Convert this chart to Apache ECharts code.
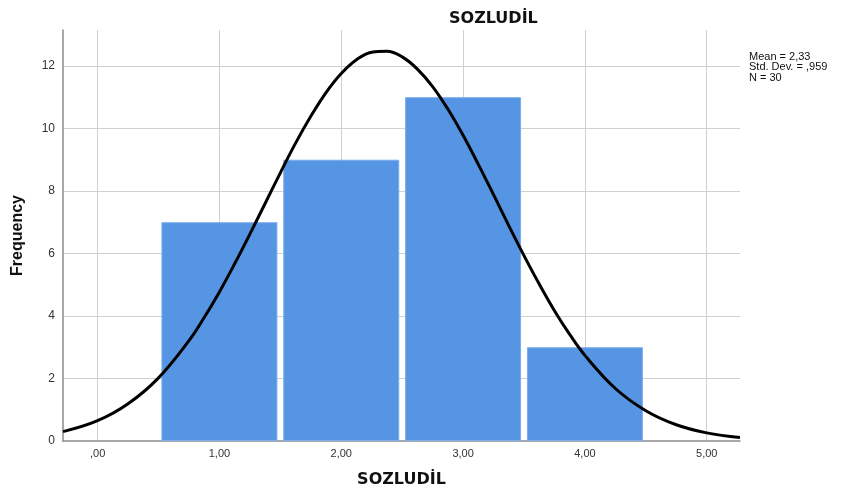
<!DOCTYPE html>
<html lang="tr">
<head>
    <meta charset="UTF-8">
    <title>SOZLUDİL</title>
    <style type="text/css">
        html, body { margin: 0; padding: 0; background: #fff; }
        #hist { width: 845px; height: 496px; }
    </style>
    <script src="https://cdn.jsdelivr.net/npm/echarts@6/dist/echarts.min.js"></script>
</head>
<body>
<div id="hist"></div>
<script type="application/javascript">
    // histogram bins (centres) and counts
    var binCenters = [1, 2, 3, 4];
    var binCounts = [7, 9, 11, 3];

    // normal curve
    var curveX = [-0.284, 0, 0.25, 0.5, 0.75, 0.875, 1.0, 1.125, 1.25, 1.375, 1.5, 1.625, 1.75, 1.875, 2.0, 2.125, 2.25, 2.375, 2.5, 2.625, 2.75, 2.875, 3.0, 3.125, 3.25, 3.375, 3.5, 3.625, 3.75, 3.875, 4.0, 4.25, 4.5, 4.75, 5.0, 5.273];
    var curveY = [0.30, 0.65, 1.19, 2.02, 3.21, 3.95, 4.77, 5.67, 6.62, 7.60, 8.58, 9.53, 10.39, 11.15, 11.76, 12.20, 12.44, 12.47, 12.29, 11.90, 11.34, 10.62, 9.78, 8.85, 7.88, 6.89, 5.93, 5.02, 4.17, 3.41, 2.74, 1.68, 0.97, 0.52, 0.26, 0.11];

    var xTicks = [0, 1, 2, 3, 4, 5];
    var xTickLabels = [',00', '1,00', '2,00', '3,00', '4,00', '5,00'];
    var statsLines = ['Mean = 2,33', 'Std. Dev. = ,959', 'N = 30'];

    var font = 'Liberation Sans, Arial, sans-serif';
    var headFont = 'DejaVu Sans, Liberation Sans, sans-serif';

    var barData = [], curveData = [];
    for (var i = 0; i < binCenters.length; i++) {
        barData.push([binCenters[i], binCounts[i]]);
    }
    for (var j = 0; j < curveX.length; j++) {
        curveData.push([curveX[j], curveY[j]]);
    }

    var chart = echarts.init(document.getElementById('hist'));
    var option = {
        animation: false,
        backgroundColor: '#ffffff',
        title: {
            text: 'SOZLUDİL',
            left: 444,
            top: 6,
            textStyle: { fontFamily: headFont, fontSize: 16, fontWeight: 'bold', color: '#111' }
        },
        grid: { left: 63, right: 105, top: 30, bottom: 55 },
        xAxis: {
            type: 'value',
            min: -0.284,
            max: 5.273,
            name: 'SOZLUDİL',
            nameLocation: 'middle',
            nameGap: 31,
            nameTextStyle: { fontFamily: headFont, fontSize: 16, fontWeight: 'bold', color: '#111' },
            axisLine: { show: true, onZero: false, lineStyle: { color: '#8c8c8c', width: 1.5 } },
            axisTick: { show: false, customValues: xTicks },
            axisLabel: {
                customValues: xTicks,
                margin: 7,
                fontFamily: font,
                fontSize: 11,
                color: '#333',
                formatter: function (v) { return xTickLabels[xTicks.indexOf(Math.round(v))]; }
            },
            splitLine: { show: true, lineStyle: { color: '#cfcfcf', width: 1 } }
        },
        yAxis: {
            type: 'value',
            min: 0,
            max: 13.15,
            interval: 2,
            name: 'Frequency',
            nameLocation: 'middle',
            nameGap: 37,
            nameTextStyle: { fontFamily: font, fontSize: 16, fontWeight: 'bold', color: '#111' },
            axisLine: { show: true, onZero: false, lineStyle: { color: '#8c8c8c', width: 1.5 } },
            axisTick: { show: false },
            axisLabel: {
                margin: 8,
                fontFamily: font,
                fontSize: 12,
                color: '#333',
                showMaxLabel: false
            },
            splitLine: { show: true, showMaxLine: false, showMinLine: false, lineStyle: { color: '#cfcfcf', width: 1 } }
        },
        graphic: [{
            type: 'text',
            left: 749,
            top: 51,
            style: {
                text: statsLines.join('\n'),
                font: '11px ' + font,
                lineHeight: 10.5,
                fill: '#111'
            }
        }],
        series: [
            {
                type: 'bar',
                data: barData,
                barWidth: 116,
                itemStyle: { color: '#5595e4', borderColor: '#7aaded', borderWidth: 1 },
                z: 2
            },
            {
                type: 'line',
                data: curveData,
                smooth: 0.4,
                symbol: 'none',
                lineStyle: { color: '#000', width: 3 },
                z: 3
            }
        ]
    };
    chart.setOption(option);
</script>
</body>
</html>
